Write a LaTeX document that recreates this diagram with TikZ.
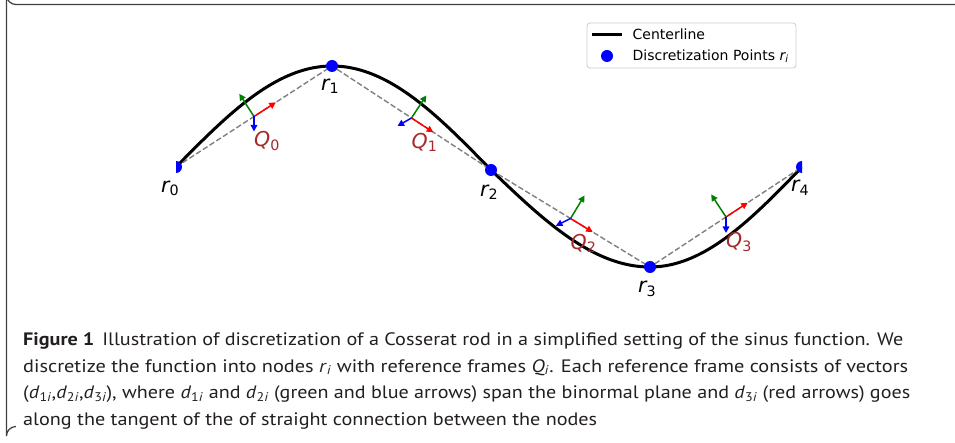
\documentclass[tikz,border=0pt]{standalone}
\usepackage{fontspec}
\usepackage{graphicx}
\setmainfont{PT Sans}
\newfontfamily\djv{DejaVu Sans}
\usetikzlibrary{calc,arrows.meta}
\definecolor{qred}{RGB}{165,42,42}
\definecolor{mgreen}{RGB}{0,128,0}
\definecolor{mblue}{RGB}{0,0,255}
\definecolor{mred}{RGB}{255,0,0}
\definecolor{captxt}{RGB}{35,31,32}
\newcommand\mlab[2]{{\djv\fontsize{20.5}{20.5}\selectfont\itshape #1}\raisebox{-3.2pt}{\djv\fontsize{14.3}{14.3}\selectfont #2}}
\newcommand\isub[2]{\textit{#1}\textsubscript{#2}}
\tikzset{
  ptdot/.style={circle,fill=mblue,inner sep=0pt,minimum size=12pt},
  centerline/.style={line width=3pt,black},
  chord/.style={gray,dash pattern=on 5.5pt off 2.5pt,line width=1.4pt},
  vec/.style={line width=1.5pt,-{Triangle[length=6.5pt,width=6.5pt]}},
  qlab/.style={anchor=base west,inner sep=0pt,text=qred},
  rlab/.style={anchor=base,inner sep=0pt,text=black},
  captline/.style={anchor=base west,inner sep=0pt,text=captxt,font=\fontsize{18}{18}\selectfont},
  legtxt/.style={anchor=base west,inner sep=0pt,font=\djv\fontsize{14}{14}\selectfont}
}
\begin{document}
\begin{tikzpicture}[x=1pt,y=-1pt]
\useasboundingbox (0,0) rectangle (955,443);
\fill[white] (0,0) rectangle (955,443);
% outer frame
\draw[line width=1.2pt,black!75] (956,4.5) -- (16,4.5) arc[start angle=90,end angle=180,radius=9.5] -- (6.5,436) arc[start angle=180,end angle=270,radius=9.5];
% points
\coordinate (r0) at (176,167);
\coordinate (r1) at (332,66);
\coordinate (r2) at (491,170);
\coordinate (r3) at (650,267);
\coordinate (r4) at (802,167);
\coordinate (q0) at ($(r0)!0.5!(r1)$);
\coordinate (q1) at ($(r1)!0.5!(r2)$);
\coordinate (q2) at ($(r2)!0.5!(r3)$);
\coordinate (q3) at ($(r3)!0.5!(r4)$);
\begin{scope}
\clip (176,0) rectangle (802,443);
\draw[centerline] plot[domain=0:90,samples=40] ({176+156*\x/90},{167-101*sin(\x)})
  -- plot[domain=0:90,samples=40] ({332+159*\x/90},{66+104*(1-cos(\x))})
  -- plot[domain=0:90,samples=40] ({491+159*\x/90},{170+97*sin(\x)})
  -- plot[domain=0:90,samples=40] ({650+152*\x/90},{267-100*(1-cos(\x))});
\draw[chord] (r0) -- (r1) -- (r2) -- (r3) -- (r4);
% frames
\draw[vec,mred] (q0) -- ($(q0)!26pt!(r1)$);
\draw[vec,mgreen] (q0) -- ($(q0)!27pt!90:(r1)$);
\draw[vec,mblue] (q0) -- ++(0,15);
\draw[vec,mred] (q1) -- ($(q1)!26pt!(r2)$);
\draw[vec,mgreen] (q1) -- ($(q1)!27pt!90:(r2)$);
\draw[vec,mblue] (q1) -- ++(-14,8);
\draw[vec,mred] (q2) -- ($(q2)!26pt!(r3)$);
\draw[vec,mgreen] (q2) -- ($(q2)!27pt!90:(r3)$);
\draw[vec,mblue] (q2) -- ++(-14.6,7.3);
\draw[vec,mred] (q3) -- ($(q3)!26pt!(r4)$);
\draw[vec,mgreen] (q3) -- ($(q3)!27pt!90:(r4)$);
\draw[vec,mblue] (q3) -- ++(0,16);
\node[ptdot] (p0) at (r0) {};
\node[ptdot] (p1) at (r1) {};
\node[ptdot] (p2) at (r2) {};
\node[ptdot] (p3) at (r3) {};
\node[ptdot] (p4) at (r4) {};
\end{scope}
% labels
\node[qlab] (lq0) at ($(q0)+(0,30.5)$) {\mlab{Q}{0}};
\node[qlab] (lq1) at ($(q1)+(0,30.5)$) {\mlab{Q}{1}};
\node[qlab] (lq2) at ($(q2)+(0,31)$) {\mlab{Q}{2}};
\node[qlab] (lq3) at ($(q3)+(0,31)$) {\mlab{Q}{3}};
\node[rlab] (lr0) at ($(r0)+(-6,25.5)$) {\mlab{r}{0}};
\node[rlab] (lr1) at ($(r1)+(-2,24.5)$) {\mlab{r}{1}};
\node[rlab] (lr2) at ($(r2)+(-2,26.5)$) {\mlab{r}{2}};
\node[rlab] (lr3) at ($(r3)+(-3,26)$) {\mlab{r}{3}};
\node[rlab] (lr4) at ($(r4)+(-2,25)$) {\mlab{r}{4}};
% legend
\draw[rounded corners=3pt,draw=black!20,fill=white,line width=0.8pt] (587,23) rectangle (796,68);
\coordinate (la) at (592,34.5);
\coordinate (lb) at (622,34.5);
\draw[line width=3pt] (la) -- (lb);
\node[legtxt] (lt1) at (632.5,39.5) {Centerline};
\node[ptdot] (lp) at (607,56) {};
\node[legtxt] (lt2) at (632.5,60.5) {Discretization Points {\itshape r}\raisebox{-2.5pt}{\fontsize{10}{10}\selectfont\itshape i}};
% caption
\node[captline] (c1) at (23,345.5) {\resizebox{880pt}{\height}{\textbf{Figure 1}\hspace{7pt}Illustration of discretization of a Cosserat rod in a simplified setting of the sinus function. We}};
\node[captline] (c2) at (23,372) {\resizebox{885pt}{\height}{discretize the function into nodes \isub{r}{\textit{i}} with reference frames \isub{Q}{\textit{i}}. Each reference frame consists of vectors}};
\node[captline] (c3) at (23,398.5) {\resizebox{887pt}{\height}{(\isub{d}{1\textit{i}},\isub{d}{2\textit{i}},\isub{d}{3\textit{i}}), where \isub{d}{1\textit{i}} and \isub{d}{2\textit{i}} (green and blue arrows) span the binormal plane and \isub{d}{3\textit{i}} (red arrows) goes}};
\node[captline] (c4) at (23,425) {\resizebox{574pt}{\height}{along the tangent of the of straight connection between the nodes}};
\end{tikzpicture}
\end{document}
